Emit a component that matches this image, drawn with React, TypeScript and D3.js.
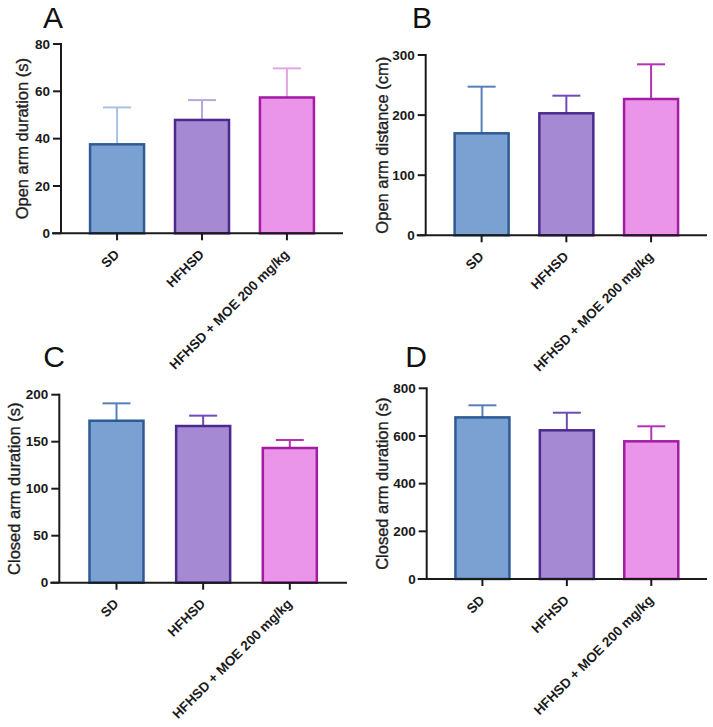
import React from 'react';
import * as d3 from 'd3';

// group names on the x axis
const categories = ['SD', 'HFHSD', 'HFHSD + MOE 200 mg/kg'];

// A: open arm duration (s)
const openArmDurationMean = [37.6, 47.9, 57.4];
const openArmDurationErr = [15.6, 8.4, 12.3];
const openArmDurationTicks = [0, 20, 40, 60, 80];

// B: open arm distance (cm)
const openArmDistanceMean = [169.7, 203, 226.8];
const openArmDistanceErr = [77.6, 29.3, 57.7];
const openArmDistanceTicks = [0, 100, 200, 300];

// C: closed arm duration (s)
const closedArmDurationCMean = [172.3, 166.7, 143.3];
const closedArmDurationCErr = [18.5, 11, 8.5];
const closedArmDurationCTicks = [0, 50, 100, 150, 200];

// D: closed arm duration (s)
const closedArmDurationDMean = [678, 623.8, 577.6];
const closedArmDurationDErr = [50.7, 73.8, 63];
const closedArmDurationDTicks = [0, 200, 400, 600, 800];

const fills = ['#7ba1d3', '#a58ad3', '#ea95e9'];
const strokes = ['#2d5b94', '#4b2a8e', '#a31ca3'];
const errColors = ['#5681bb', '#6e4cb6', '#b533b5'];
const errColorsLight = ['#a9c1e3', '#bba6de', '#e3a6e6'];

const FONT = "'Liberation Sans', Arial, Helvetica, sans-serif";

type PanelProps = {
  letter: string;
  letterX: number;
  letterY: number;
  label: string;
  labelX: number;
  axisX: number;
  top: number;
  zero: number;
  right: number;
  mean: number[];
  err: number[];
  ticks: number[];
  errCol: string[];
};

const Panel = (p: PanelProps) => {
  const max = p.ticks[p.ticks.length - 1];
  const y = d3.scaleLinear().domain([0, max]).range([p.zero, p.top]);
  const x = d3.scalePoint<string>().domain(categories).range([p.axisX, p.right]).padding(0.66);
  const barW = 54;
  const capW = 28;

  return (
    <g>
      <text x={p.letterX} y={p.letterY} fontSize={30} fontFamily={FONT} textAnchor="middle" fill="#111">
        {p.letter}
      </text>
      <text
        transform={`translate(${p.labelX},${(p.top + p.zero) / 2}) rotate(-90)`}
        dy="0.35em"
        textAnchor="middle"
        fontSize={16.5}
        fontFamily={FONT}
        fill="#1e1e1e"
        stroke="#1e1e1e"
        strokeWidth={0.35}
      >
        {p.label}
      </text>

      {categories.map((c, i) => {
        const cx = x(c)!;
        const yTop = y(p.mean[i]);
        const yErr = y(p.mean[i] + p.err[i]);
        return (
          <g key={c}>
            <line x1={cx} x2={cx} y1={yTop} y2={yErr} stroke={p.errCol[i]} strokeWidth={2} />
            <line x1={cx - capW / 2} x2={cx + capW / 2} y1={yErr} y2={yErr} stroke={p.errCol[i]} strokeWidth={2} />
            <rect
              x={cx - barW / 2}
              y={yTop}
              width={barW}
              height={p.zero - yTop}
              fill={fills[i]}
              stroke={strokes[i]}
              strokeWidth={2.5}
            />
          </g>
        );
      })}

      {/* y axis */}
      <line x1={p.axisX} x2={p.axisX} y1={p.top - 1} y2={p.zero} stroke="#1a1a1a" strokeWidth={2} />
      {p.ticks.map((t) => (
        <g key={t}>
          <line x1={p.axisX - 8} x2={p.axisX} y1={y(t)} y2={y(t)} stroke="#1a1a1a" strokeWidth={2} />
          <text
            x={p.axisX - 11}
            y={y(t)}
            dy="0.35em"
            textAnchor="end"
            fontSize={13.5}
            fontWeight="bold"
            fontFamily={FONT}
            fill="#1a1a1a"
          >
            {t}
          </text>
        </g>
      ))}

      {/* x axis */}
      <line x1={p.axisX - 9} x2={p.right} y1={p.zero} y2={p.zero} stroke="#1a1a1a" strokeWidth={2} />
      {categories.map((c) => {
        const cx = x(c)!;
        return (
          <g key={c}>
            <line x1={cx} x2={cx} y1={p.zero} y2={p.zero + 7} stroke="#1a1a1a" strokeWidth={2} />
            <text
              transform={`translate(${cx + 3},${p.zero + 22}) rotate(-45)`}
              textAnchor="end"
              fontSize={13.5}
              fontWeight="bold"
              fontFamily={FONT}
              fill="#1a1a1a"
            >
              {c}
            </text>
          </g>
        );
      })}
    </g>
  );
};

export default function App() {
  return (
    <div style={{ position: 'absolute', left: 0, top: 0 }}>
      <svg width={713} height={727} style={{ display: 'block', background: '#fff' }}>
        <Panel
          letter="A" letterX={53} letterY={28}
          label="Open arm duration (s)" labelX={22}
          axisX={61} top={44} zero={233.3} right={343}
          mean={openArmDurationMean} err={openArmDurationErr} ticks={openArmDurationTicks}
          errCol={errColorsLight}
        />
        <Panel
          letter="B" letterX={422} letterY={28}
          label="Open arm distance (cm)" labelX={382}
          axisX={425.7} top={55} zero={235.3} right={707}
          mean={openArmDistanceMean} err={openArmDistanceErr} ticks={openArmDistanceTicks}
          errCol={errColors}
        />
        <Panel
          letter="C" letterX={54} letterY={367}
          label="Closed arm duration (s)" labelX={14}
          axisX={59.3} top={394.7} zero={582.7} right={347}
          mean={closedArmDurationCMean} err={closedArmDurationCErr} ticks={closedArmDurationCTicks}
          errCol={errColors}
        />
        <Panel
          letter="D" letterX={416} letterY={367}
          label="Closed arm duration (s)" labelX={382}
          axisX={426.7} top={388.3} zero={579} right={707}
          mean={closedArmDurationDMean} err={closedArmDurationDErr} ticks={closedArmDurationDTicks}
          errCol={errColors}
        />
      </svg>
    </div>
  );
}
